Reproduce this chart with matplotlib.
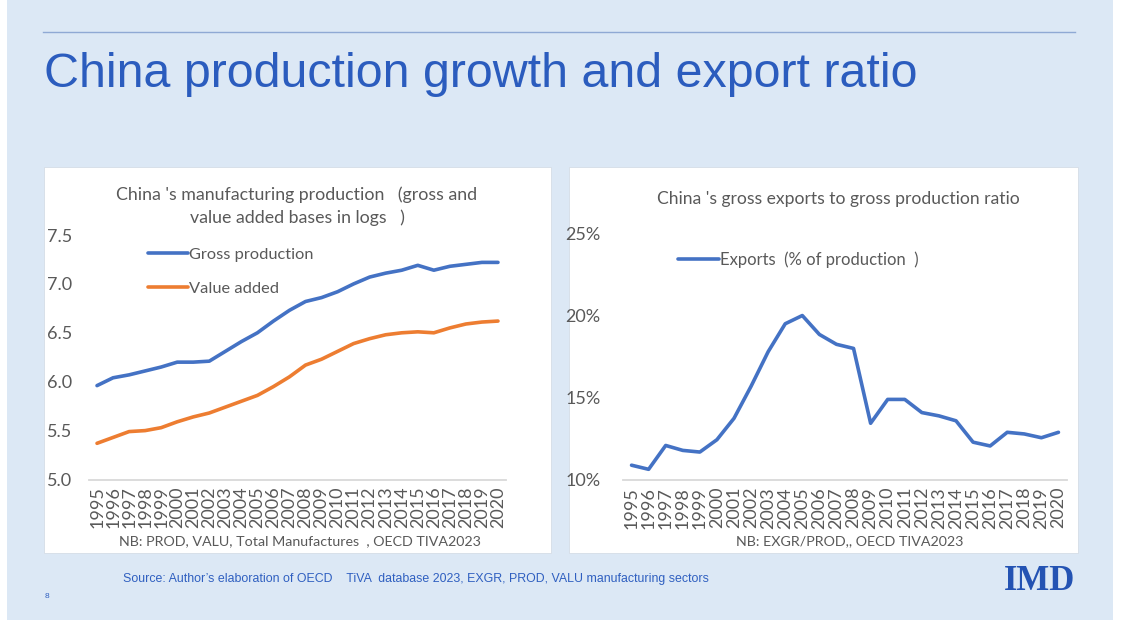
import matplotlib
matplotlib.use("Agg")
import matplotlib.pyplot as plt
from matplotlib.patches import Rectangle
from matplotlib.lines import Line2D
from matplotlib.ticker import FuncFormatter

W, H = 1126, 628

years = list(range(1995, 2021))

gross_production = [5.96, 6.04, 6.07, 6.11, 6.15, 6.20, 6.20, 6.21, 6.31, 6.41,
                    6.50, 6.62, 6.73, 6.82, 6.86, 6.92, 7.00, 7.07, 7.11, 7.14,
                    7.19, 7.14, 7.18, 7.20, 7.22, 7.22]
value_added = [5.37, 5.43, 5.49, 5.50, 5.53, 5.59, 5.64, 5.68, 5.74, 5.80,
               5.86, 5.95, 6.05, 6.17, 6.23, 6.31, 6.39, 6.44, 6.48, 6.50,
               6.51, 6.50, 6.55, 6.59, 6.61, 6.62]
exports_pct = [10.9, 10.65, 12.1, 11.8, 11.7, 12.45, 13.75, 15.7, 17.8, 19.5,
               20.0, 18.85, 18.25, 18.0, 13.45, 14.9, 14.9, 14.1, 13.9, 13.6,
               12.3, 12.07, 12.9, 12.8, 12.57, 12.9]

BG = "#DCE8F5"
BLUE = "#4472C4"
ORANGE = "#ED7D31"
GREY = "#595959"
TITLE_BLUE = "#2B5CBE"
CHART_FONT = ["Lato", "DejaVu Sans"]


def fx(x):
    return x / W


def fy(y):
    return 1 - y / H


def box(x0, y0, x1, y1):
    return [fx(x0), fy(y1), fx(x1) - fx(x0), fy(y0) - fy(y1)]


fig = plt.figure(figsize=(W / 100, H / 100), dpi=100, facecolor="white")

# slide background, panels
fig.patches.append(Rectangle((fx(7), fy(620)), fx(1113) - fx(7), fy(0) - fy(620),
                             transform=fig.transFigure, facecolor=BG, edgecolor="none", zorder=-2))
for x0, x1 in [(44, 551), (569, 1078)]:
    fig.patches.append(Rectangle((fx(x0), fy(553)), fx(x1) - fx(x0), fy(167) - fy(553),
                                 transform=fig.transFigure, facecolor="white",
                                 edgecolor="#D5DDE6", linewidth=0.6, zorder=-1))

# title and rule
fig.add_artist(Line2D([fx(43), fx(1075)], [fy(32), fy(32)], color="#8FA9D4", linewidth=1.0))
fig.text(fx(44), fy(87), "China production growth and export ratio", fontsize=34.8,
         color=TITLE_BLUE, family=["Liberation Sans", "DejaVu Sans"], ha="left", va="baseline")


def style_axis(ax, pad_y):
    ax.set_zorder(3)
    for s in ["top", "right", "left"]:
        ax.spines[s].set_visible(False)
    ax.spines["bottom"].set_color("#D9D9D9")
    ax.spines["bottom"].set_linewidth(1.3)
    ax.set_facecolor("none")
    ax.set_xlim(1994.5, 2020.5)
    ax.set_xticks(years)
    ax.set_xticklabels([str(y) for y in years], rotation=90, fontsize=13,
                       color=GREY, family=CHART_FONT)
    ax.tick_params(axis="both", length=0)
    ax.tick_params(axis="x", pad=5)
    ax.tick_params(axis="y", pad=pad_y, labelsize=13, labelcolor=GREY)
    for lab in ax.get_yticklabels():
        lab.set_family(CHART_FONT)


# left chart
ax1 = fig.add_axes(box(89, 235, 506, 479.5))
ax1.plot(years, gross_production, color=BLUE, linewidth=2.6, label="Gross production",
         solid_capstyle="round")
ax1.plot(years, value_added, color=ORANGE, linewidth=2.6, label="Value added",
         solid_capstyle="round")
ax1.set_ylim(5.0, 7.5)
ax1.set_yticks([5.0, 5.5, 6.0, 6.5, 7.0, 7.5])
ax1.yaxis.set_major_formatter(FuncFormatter(lambda v, p: f"{v:.1f}"))
style_axis(ax1, 12)
ax1.legend(loc="center left", bbox_to_anchor=(fx(133), fy(271.5)),
           bbox_transform=fig.transFigure, frameon=False, handlelength=2.45,
           handletextpad=0.05, labelspacing=1.2,
           prop={"family": CHART_FONT, "size": 11.8}, labelcolor=GREY)
fig.text(fx(297), fy(195), "China 's manufacturing production   (gross and",
         ha="center", va="center", fontsize=12.8, color=GREY, family=CHART_FONT)
fig.text(fx(297), fy(218), "value added bases in logs   )",
         ha="center", va="center", fontsize=12.8, color=GREY, family=CHART_FONT)
fig.text(fx(300), fy(541), "NB: PROD, VALU, Total Manufactures  , OECD TIVA2023",
         ha="center", va="center", fontsize=10.3, color=GREY, family=CHART_FONT)

# right chart
ax2 = fig.add_axes(box(623, 233.3, 1067, 480))
ax2.plot(years, exports_pct, color=BLUE, linewidth=2.6, label="Exports  (% of production  )",
         solid_capstyle="round")
ax2.set_ylim(10, 25)
ax2.set_yticks([10, 15, 20, 25])
ax2.yaxis.set_major_formatter(FuncFormatter(lambda v, p: f"{v:.0f}%"))
style_axis(ax2, 16)
ax2.legend(loc="center left", bbox_to_anchor=(fx(663), fy(260)),
           bbox_transform=fig.transFigure, frameon=False, handlelength=2.45,
           handletextpad=0.05, prop={"family": CHART_FONT, "size": 12}, labelcolor=GREY)
fig.text(fx(838), fy(199), "China 's gross exports to gross production ratio",
         ha="center", va="center", fontsize=12.6, color=GREY, family=CHART_FONT)
fig.text(fx(850), fy(541), "NB: EXGR/PROD,, OECD TIVA2023",
         ha="center", va="center", fontsize=10.3, color=GREY, family=CHART_FONT)

# footer
fig.text(fx(123), fy(579), "Source: Author\u2019s elaboration of OECD    TiVA  database 2023, EXGR, PROD, VALU manufacturing sectors",
         ha="left", va="center", fontsize=8.9, color="#2F5FC0",
         family=["Liberation Sans", "DejaVu Sans"])
fig.text(fx(45), fy(597), "8", ha="left", va="center", fontsize=6, color="#2F5FC0",
         family=["Liberation Sans", "DejaVu Sans"])
fig.text(fx(1040), fy(582), "IMD", ha="center", va="center", fontsize=25, fontweight="bold",
         color="#2453B3", family=["Liberation Serif", "DejaVu Serif"])

fig.savefig("out.png", dpi=100, facecolor="white")
